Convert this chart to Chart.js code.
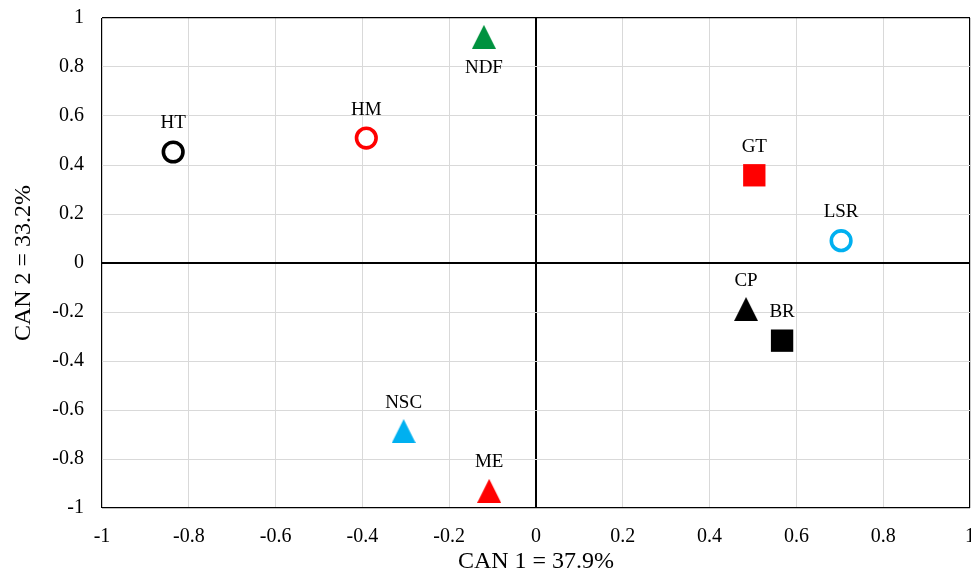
<!DOCTYPE html>
<html>
<head>
<meta charset="utf-8">
<script src="https://cdn.jsdelivr.net/npm/chart.js@4"></script>
<style>
  html, body { margin: 0; padding: 0; background: #fff; }
  #wrap { width: 971px; height: 574px; }
</style>
</head>
<body>
<div id="wrap"><canvas id="c" width="971" height="574"></canvas></div>
<script>
// Canonical discriminant scores of each variable
const variables = ['HT', 'HM', 'NDF', 'GT', 'LSR', 'CP', 'BR', 'NSC', 'ME'];
const can1 = [-0.836, -0.391, -0.120, 0.503, 0.703, 0.484, 0.567, -0.305, -0.108];
const can2 = [0.453, 0.510, 0.923, 0.358, 0.091, -0.188, -0.317, -0.686, -0.930];

// Axis tick labels, -1 .. 1 in steps of 0.2
const xTickLabels = ['-1', '-0.8', '-0.6', '-0.4', '-0.2', '0', '0.2', '0.4', '0.6', '0.8', '1'];
const yTickLabels = ['-1', '-0.8', '-0.6', '-0.4', '-0.2', '0', '0.2', '0.4', '0.6', '0.8', '1'];

const xTitle = 'CAN 1 = 37.9%';
const yTitle = 'CAN 2 = 33.2%';

// Marker look per variable
const RED = '#ff0000', BLACK = '#000000', BLUE = '#00b0f0', GREEN = '#00923f';
const markerStyle = {
  HT:  { shape: 'ring',     color: BLACK, labelBelow: false },
  HM:  { shape: 'ring',     color: RED,   labelBelow: false },
  NDF: { shape: 'triangle', color: GREEN, labelBelow: true },
  GT:  { shape: 'square',   color: RED,   labelBelow: false },
  LSR: { shape: 'ring',     color: BLUE,  labelBelow: false },
  CP:  { shape: 'triangle', color: BLACK, labelBelow: false },
  BR:  { shape: 'square',   color: BLACK, labelBelow: false },
  NSC: { shape: 'triangle', color: BLUE,  labelBelow: false },
  ME:  { shape: 'triangle', color: RED,   labelBelow: false }
};

const FONT = "'Liberation Serif', 'Times New Roman', serif";

// Isosceles triangle sprite (base equal to height)
function triangleSprite(color) {
  const w = 24, h = 24;
  const cv = document.createElement('canvas');
  cv.width = w; cv.height = h;
  const g = cv.getContext('2d');
  g.fillStyle = color;
  g.beginPath();
  g.moveTo(w / 2, 0);
  g.lineTo(w, h);
  g.lineTo(0, h);
  g.closePath();
  g.fill();
  return cv;
}

const points = variables.map((v, i) => ({ x: can1[i], y: can2[i] }));

function styleOf(ctx) { return markerStyle[variables[ctx.dataIndex]]; }
function radiusOf(ctx) {
  const s = styleOf(ctx).shape;
  return s === 'ring' ? 9.8 : s === 'square' ? 15.8 : 12;
}

const dataset = {
  data: points,
  pointStyle: ctx => {
    const s = styleOf(ctx);
    if (s.shape === 'ring') return 'circle';
    if (s.shape === 'square') return 'rect';
    return triangleSprite(s.color);
  },
  pointRadius: radiusOf,
  pointHoverRadius: radiusOf,
  pointBackgroundColor: ctx => {
    const s = styleOf(ctx);
    return s.shape === 'ring' ? '#ffffff' : s.color;
  },
  pointBorderColor: ctx => styleOf(ctx).color,
  pointBorderWidth: ctx => styleOf(ctx).shape === 'ring' ? 3.6 : 0,
  showLine: false
};

// Variable names written above (or below) each marker
const pointLabels = {
  id: 'pointLabels',
  afterDatasetsDraw(chart) {
    const meta = chart.getDatasetMeta(0);
    const g = chart.ctx;
    g.save();
    g.font = '19px ' + FONT;
    g.fillStyle = '#000';
    g.textAlign = 'center';
    g.textBaseline = 'middle';
    meta.data.forEach((el, i) => {
      const name = variables[i];
      const dy = markerStyle[name].labelBelow ? 31 : -28.5;
      g.fillText(name, el.x, el.y + dy);
    });
    g.restore();
  }
};

function gridColor(ctx) {
  const v = ctx.tick ? ctx.tick.value : null;
  if (v === 0 || v === 1 || v === -1) return '#000000';
  return '#d9d9d9';
}
function gridWidth(ctx) {
  const v = ctx.tick ? ctx.tick.value : null;
  if (v === 0) return 2;
  if (v === 1 || v === -1) return 1.2;
  return 1;
}

function fixedTicks(labels) {
  return s => {
    s.ticks = labels.map((t, i) => ({ value: Math.round((-1 + i * 0.2) * 10) / 10 }));
  };
}

new Chart(document.getElementById('c'), {
  type: 'scatter',
  data: { datasets: [dataset] },
  plugins: [pointLabels],
  options: {
    responsive: false,
    animation: false,
    devicePixelRatio: 1,
    layout: { autoPadding: false, padding: { top: 18, right: 1, left: 0, bottom: 0 } },
    plugins: { legend: { display: false }, tooltip: { enabled: false } },
    scales: {
      x: {
        type: 'linear',
        min: -1, max: 1,
        afterBuildTicks: fixedTicks(xTickLabels),
        afterFit: s => { s.height = 66; s.paddingLeft = 0; s.paddingRight = 0; },
        border: { display: false },
        grid: { color: gridColor, lineWidth: gridWidth, drawTicks: false },
        ticks: {
          padding: 17,
          maxRotation: 0,
          autoSkip: false,
          color: '#000',
          font: { family: FONT, size: 20 },
          callback: (v, i) => xTickLabels[i]
        },
        title: {
          display: true,
          text: xTitle,
          color: '#000',
          font: { family: FONT, size: 24, lineHeight: 1 },
          padding: { top: 0, bottom: 0 }
        }
      },
      y: {
        type: 'linear',
        min: -1, max: 1,
        afterBuildTicks: fixedTicks(yTickLabels),
        afterFit: s => { s.width = 102; s.paddingTop = 0; s.paddingBottom = 0; },
        border: { display: false },
        grid: { color: gridColor, lineWidth: gridWidth, drawTicks: false },
        ticks: {
          padding: 18,
          autoSkip: false,
          color: '#000',
          font: { family: FONT, size: 20 },
          callback: (v, i) => yTickLabels[i]
        },
        title: {
          display: true,
          text: yTitle,
          color: '#000',
          font: { family: FONT, size: 24, lineHeight: 1 },
          padding: { top: 12, bottom: 0 }
        }
      }
    }
  }
});
</script>
</body>
</html>
